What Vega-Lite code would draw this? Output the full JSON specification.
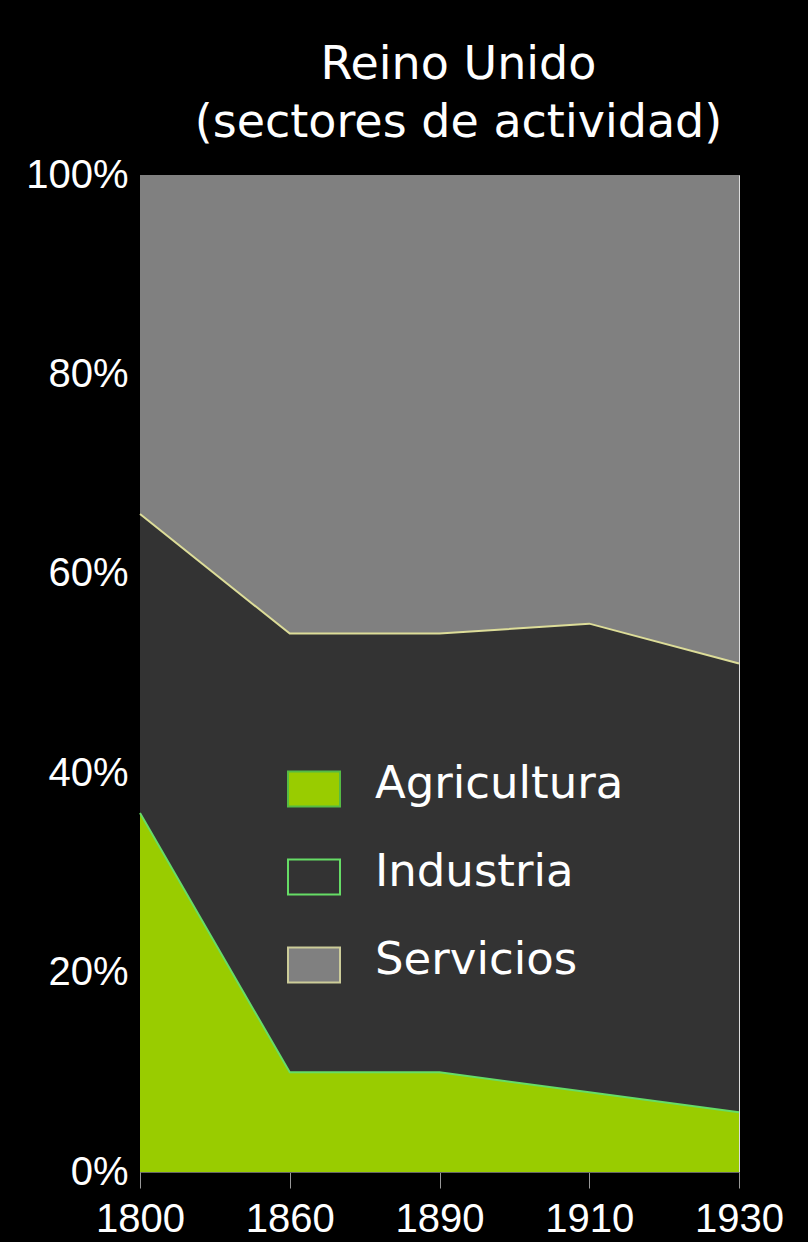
{
  "$schema": "https://vega.github.io/schema/vega-lite/v6.json",
  "autosize": {"type": "none"},
  "width": 599,
  "height": 997,
  "padding": {"left": 140, "top": 175, "right": 69, "bottom": 70},
  "background": "#000000",
  "title": {
    "text": ["Reino Unido", "(sectores de actividad)"],
    "font": "DejaVu Sans",
    "fontSize": 46,
    "fontWeight": "normal",
    "color": "#ffffff",
    "lineHeight": 58,
    "offset": 8,
    "dx": 19,
    "anchor": "middle"
  },
  "data": {
    "values": [
      {"year": "1800", "sector": "Agricultura", "value": 36},
      {"year": "1860", "sector": "Agricultura", "value": 10},
      {"year": "1890", "sector": "Agricultura", "value": 10},
      {"year": "1910", "sector": "Agricultura", "value": 8},
      {"year": "1930", "sector": "Agricultura", "value": 6},
      {"year": "1800", "sector": "Industria", "value": 30},
      {"year": "1860", "sector": "Industria", "value": 44},
      {"year": "1890", "sector": "Industria", "value": 44},
      {"year": "1910", "sector": "Industria", "value": 47},
      {"year": "1930", "sector": "Industria", "value": 45},
      {"year": "1800", "sector": "Servicios", "value": 34},
      {"year": "1860", "sector": "Servicios", "value": 46},
      {"year": "1890", "sector": "Servicios", "value": 46},
      {"year": "1910", "sector": "Servicios", "value": 45},
      {"year": "1930", "sector": "Servicios", "value": 49}
    ]
  },
  "encoding": {
    "x": {
      "field": "year",
      "type": "ordinal",
      "scale": {"type": "point", "padding": 0},
      "axis": {
        "title": null,
        "labelAngle": 0,
        "labelFont": "Liberation Sans",
        "labelFontSize": 40,
        "labelColor": "#ffffff",
        "labelPadding": 11,
        "tickColor": "#999999",
        "tickSize": 16,
        "tickWidth": 1,
        "domainColor": "#666666",
        "domainWidth": 1,
        "grid": false
      }
    }
  },
  "layer": [
    {
      "mark": {"type": "area", "interpolate": "linear"},
      "encoding": {
        "y": {
          "field": "value",
          "type": "quantitative",
          "stack": "normalize",
          "scale": {"domain": [0, 1]},
          "axis": {
            "title": null,
            "format": ".0%",
            "values": [0, 0.2, 0.4, 0.6, 0.8, 1],
            "labelFont": "Liberation Sans",
            "labelFontSize": 40,
            "labelColor": "#ffffff",
            "labelPadding": 12,
            "ticks": false,
            "domain": false,
            "grid": false
          }
        },
        "color": {
          "field": "sector",
          "type": "nominal",
          "scale": {
            "domain": ["Agricultura", "Industria", "Servicios"],
            "range": ["#99cc00", "#333333", "#808080"]
          },
          "legend": {
            "title": null,
            "orient": "none",
            "legendX": 147,
            "legendY": 587,
            "padding": 0,
            "symbolType": "M-1,-0.67H1V0.67H-1Z",
            "symbolSize": 2704,
            "symbolStrokeWidth": 2,
            "symbolOpacity": 1,
            "labelFont": "DejaVu Sans",
            "labelFontSize": 45,
            "labelColor": "#ffffff",
            "labelOffset": 34,
            "labelLimit": 400,
            "rowPadding": 39,
            "fillColor": null,
            "encode": {
              "symbols": {
                "update": {
                  "stroke": {"signal": "datum.value === 'Agricultura' ? '#55bb44' : datum.value === 'Industria' ? '#66dd66' : '#cccc99'"},
                  "strokeWidth": {"value": 2}
                }
              },
              "labels": {
                "update": {
                  "dy": {"value": -5}
                }
              }
            }
          }
        },
        "order": {"field": "sector"}
      }
    },
    {
      "transform": [
        {
          "stack": "value",
          "groupby": ["year"],
          "as": ["y0", "y1"],
          "offset": "normalize",
          "sort": [{"field": "sector", "order": "ascending"}]
        },
        {"filter": "datum.sector === 'Agricultura'"}
      ],
      "mark": {"type": "line", "strokeWidth": 2, "color": "#66dd66", "interpolate": "linear"},
      "encoding": {
        "y": {"field": "y1", "type": "quantitative"}
      }
    },
    {
      "transform": [
        {
          "stack": "value",
          "groupby": ["year"],
          "as": ["y0", "y1"],
          "offset": "normalize",
          "sort": [{"field": "sector", "order": "ascending"}]
        },
        {"filter": "datum.sector === 'Industria'"}
      ],
      "mark": {"type": "line", "strokeWidth": 2, "color": "#dddd99", "interpolate": "linear"},
      "encoding": {
        "y": {"field": "y1", "type": "quantitative"}
      }
    }
  ]
}
